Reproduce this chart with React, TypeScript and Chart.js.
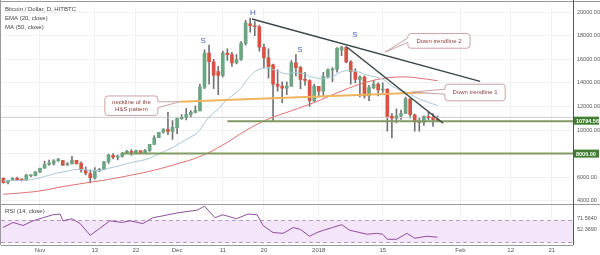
import React, { useEffect, useRef } from "react";
import { Chart, registerables } from "chart.js";

Chart.register(...registerables);

// ---- data (day 0 = Nov 1, 2017) ----
const candleDays = [
  -8, -7, -6, -5, -4, -3, -2, -1, 0, 1, 2, 3, 4, 5, 6, 7, 8, 9, 10, 11, 12, 13, 14, 15, 16, 17, 18, 19, 20, 21, 22, 23,
  24, 25, 26, 27, 28, 29, 30, 31, 32, 33, 34, 35, 36, 37, 38, 39, 40, 41, 42, 43, 44, 45, 46, 47, 48, 49, 50, 51, 52, 53,
  54, 55, 56, 57, 58, 59, 60, 61, 62, 63, 64, 65, 66, 67, 68, 69, 70, 71, 72, 73, 74, 75, 76, 77, 78, 79, 80, 81, 82, 83,
  84, 85, 86, 87,
];
const opens = [
  5900, 5530, 5740, 5900, 5780, 5750, 6120, 6130, 6440, 6770, 7080, 7170, 7400, 7400, 7020, 7140, 7440, 7170, 6610, 6300,
  5940, 6560, 6630, 7320, 7850, 7700, 7770, 8040, 8200, 8080, 8230, 8070, 8240, 8790, 9350, 9820, 10070, 9900, 10200, 10970,
  11080, 11310, 11500, 11650, 13640, 16530, 15790, 14950, 14630, 16530, 16400, 15700, 16000, 17355, 19010, 18850, 18760,
  17025, 16116, 15537, 13884, 13720, 13560, 13720, 15700, 15290, 14300, 14200, 12500, 13700, 13300, 14545, 15100, 15150,
  16780, 17025, 15785, 14960, 14300, 14500, 12900, 13600, 13900, 13400, 13470, 11160, 11000, 11200, 11400, 12645, 11300,
  10700, 10650, 11150, 11050, 10900,
];
const highs = [
  5950, 5750, 5970, 6000, 5870, 6250, 6210, 6470, 6770, 7360, 7460, 7490, 7610, 7440, 7250, 7770, 7440, 7310, 6870, 6620,
  6810, 6760, 7340, 7960, 8000, 7880, 8100, 8280, 8340, 8300, 8260, 8370, 8790, 9520, 9810, 10120, 11500, 10800, 11040,
  11320, 11850, 11650, 12030, 13900, 16800, 17200, 16000, 15400, 16700, 16900, 16600, 16400, 17500, 19300, 19500, 19200,
  18900, 17300, 16900, 15600, 15100, 14100, 14100, 15900, 16400, 15400, 14900, 14250, 13900, 13700, 14900, 15200, 15300,
  17000, 17100, 17100, 15900, 15200, 14600, 14600, 13800, 14200, 14000, 14000, 13500, 11400, 11800, 11700, 12800, 12650,
  11350, 11000, 11200, 11500, 11400, 11200,
];
const lows = [
  5500, 5420, 5740, 5730, 5690, 5720, 6030, 6100, 6380, 6760, 7000, 7030, 7330, 7000, 7020, 7110, 7100, 6430, 6200, 5520,
  5840, 6460, 6630, 7170, 7560, 7460, 7690, 7990, 7850, 8070, 8030, 8000, 8190, 8770, 9350, 9730, 9600, 9200, 9690, 10900,
  10860, 11080, 11450, 11600, 13500, 13900, 13500, 13000, 14500, 15900, 15400, 15600, 15900, 17200, 18300, 18000, 16700,
  15300, 14400, 10744, 13300, 12300, 13000, 13700, 14600, 13500, 13800, 12000, 12400, 12800, 12800, 14400, 14100, 14900,
  16300, 15700, 13900, 14000, 12800, 12700, 12500, 13500, 12900, 13200, 9900, 9340, 10600, 10900, 11400, 11000, 9900, 9900,
  10400, 10850, 10300, 10700,
];
const closes = [
  5530, 5740, 5900, 5780, 5750, 6150, 6130, 6460, 6760, 7070, 7200, 7380, 7400, 7020, 7140, 7450, 7140, 6610, 6350, 5950,
  6550, 6630, 7310, 7870, 7700, 7790, 8030, 8200, 8070, 8250, 8040, 8250, 8790, 9330, 9810, 10050, 9880, 10230, 10970,
  11070, 11320, 11500, 11650, 13640, 16530, 15790, 14630, 14630, 16530, 16400, 15700, 16000, 17355, 19090, 18850, 18760,
  17025, 16116, 15372, 13884, 13720, 13560, 13720, 15700, 15290, 14300, 14200, 12500, 13700, 13300, 14545, 15100, 15150,
  16940, 17025, 15785, 14960, 14300, 14500, 12900, 13600, 13900, 13400, 13470, 11160, 11000, 11200, 11400, 12645, 11300,
  10700, 10650, 11150, 11050, 10900, 10794.56,
];
const emaValues = [
  5683, 5689, 5710, 5716, 5720, 5761, 5796, 5860, 5946, 6054, 6164, 6279, 6387, 6447, 6513, 6603, 6654, 6651, 6623, 6559,
  6559, 6566, 6637, 6755, 6845, 6935, 7040, 7150, 7238, 7334, 7401, 7482, 7607, 7771, 7966, 8165, 8329, 8510, 8745, 8966,
  9190, 9410, 9620, 10003, 10624, 11115, 11450, 11753, 12208, 12607, 12901, 13196, 13592, 14116, 14566, 14966, 15162,
  15252, 15264, 15132, 14998, 14861, 14752, 14842, 14884, 14828, 14768, 14552, 14471, 14359, 14377, 14446, 14513, 14744,
  14961, 15039, 15031, 14961, 14917, 14725, 14618, 14549, 14440, 14347, 14043, 13753, 13510, 13309, 13246, 13060, 12835,
  12627, 12486, 12349, 12211, 12076,
];
const maDays = [-8, -4, 0, 5, 10, 15, 20, 25, 30, 35, 40, 45, 50, 55, 60, 65, 70, 75, 80, 84, 87];
const maValues = [
  4547, 4670, 4836, 5200, 5511, 5808, 6179, 6594, 7130, 7754, 8723, 9950, 10940, 11629, 12335, 13149, 13884, 14376, 14505,
  14350, 14184,
];
const rsiDays = [
  -8.1, -5.9, -3.7, -1.5, 0.7, 2.8, 4.4, 5, 7, 8.8, 11, 13, 15.3, 18, 19.7, 22.5, 24.7, 27, 30, 34.4, 36, 38.3, 40, 43,
  45.5, 47.5, 48.8, 51, 53.2, 55.4, 57, 59, 60.6, 62, 64, 66, 67.8, 70, 71.6, 73.7, 75, 76, 78, 80.3, 82, 84.7, 87,
];
const rsiValues = [
  56, 65, 59.6, 68, 73.5, 78.7, 80, 68, 71.7, 63, 42, 54, 68, 65, 68, 63, 73.5, 77, 82, 87, 94, 73.5, 78.7, 71.7, 80, 78.7,
  59.6, 47, 45.6, 56, 52.6, 40.4, 47, 51, 56, 61, 51, 47, 44, 45.6, 44, 35, 35, 45.6, 37, 40.4, 38.7,
];

const xTickDays = [0, 12, 21, 30, 40, 49, 61, 75, 92, 103, 112];
const xTickLabels = ["Nov", "13", "22", "Dec", "11", "20", "2018", "15", "Feb", "12", "21"];
const priceTicks = [4000, 6000, 8000, 10000, 12000, 14000, 16000, 18000, 20000];
const rsiTicks = [52.369, 71.564];
const rsiTickLabels = ["52.3690", "71.5640"];

const trend2Days = [46.4, 96.3];
const trend2Prices = [19420, 14130];
const trend1Days = [67.2, 88.2];
const trend1Prices = [17025, 10579];
const necklineDays = [30.6, 86.9];
const necklinePrices = [12400, 13220];
const supportDays = [41, 116.7];
const supportPrices = [10750, 10750];
const lowSupportDays = [18, 116.7];
const lowSupportPrices = [8000, 8000];
const priceLineDays = [-8.6, 116.7];
const priceLinePrices = [11080, 11080];

const lastPrice = 10794.56;
const lastPriceLabel = "10794.56";
const supportLabelValue = 8000;
const supportLabel = "8000.00";

const hsDays = [35.7, 46.6, 56.9, 68.9];
const hsPrices = [17600, 19920, 16780, 18100];
const hsTexts = ["S", "H", "S", "S"];

const calloutTexts = [["neckline of the", "H&S pattern"], ["Down trendline 2"], ["Down trendline 1"]];
const calloutBoxDays = [[14.2, 25.8], [80.5, 94.1], [88.6, 101.8]];
const calloutBoxPrices = [[12893, 11240], [18182, 16942], [13884, 12479]];
const calloutTipDays = [30.6, 75.5, 81.4];
const calloutTipPrices = [12400, 16612, 13223];

const UP = "#6ba583";
const DOWN = "#d75442";
const FONT = "'Liberation Sans', Arial, sans-serif";

function pts(xs: number[], ys: number[]) {
  return xs.map((x, i) => ({ x, y: ys[i] }));
}

const overlay = {
  id: "overlay",
  beforeDatasetsDraw(chart: any) {
    const { ctx, chartArea, scales } = chart;
    const y2 = scales.y2;
    const t = Math.round(y2.getPixelForValue(70)) + 0.5;
    const b = Math.round(y2.getPixelForValue(30)) + 0.5;
    ctx.save();
    ctx.fillStyle = "#f3e5fa";
    ctx.fillRect(chartArea.left, t, chartArea.right - chartArea.left, b - t);
    ctx.setLineDash([4, 3]);
    ctx.strokeStyle = "#b89bc6";
    ctx.lineWidth = 1;
    [t, b].forEach((yy) => {
      ctx.beginPath();
      ctx.moveTo(chartArea.left, yy);
      ctx.lineTo(chartArea.right, yy);
      ctx.stroke();
    });
    ctx.restore();
  },
  afterDraw(chart: any) {
    const { ctx, chartArea, scales } = chart;
    const x = scales.x;
    const y = scales.y;
    ctx.save();
    // frame lines
    ctx.strokeStyle = "#9a9a9a";
    ctx.lineWidth = 1;
    const sep = Math.round(y.bottom) + 0.5;
    ctx.beginPath();
    ctx.moveTo(0, sep);
    ctx.lineTo(600, sep);
    ctx.moveTo(chartArea.left, Math.round(chartArea.bottom) + 0.5);
    ctx.lineTo(chartArea.right, Math.round(chartArea.bottom) + 0.5);
    ctx.moveTo(0.5, 0);
    ctx.lineTo(0.5, chartArea.bottom);
    ctx.moveTo(0, 1.5);
    ctx.lineTo(600, 1.5);
    ctx.stroke();
    ctx.strokeStyle = "#555";
    ctx.beginPath();
    ctx.moveTo(Math.round(chartArea.right) + 0.5, 0);
    ctx.lineTo(Math.round(chartArea.right) + 0.5, chartArea.bottom);
    ctx.stroke();

    // price label boxes
    const box = (v: number, txt: string) => {
      const py = y.getPixelForValue(v);
      ctx.fillStyle = "#3f7f2f";
      ctx.fillRect(chartArea.right + 1, py - 4, 25, 8);
      ctx.fillStyle = "#ffffff";
      ctx.font = `bold 5.5px ${FONT}`;
      ctx.textBaseline = "middle";
      ctx.textAlign = "left";
      ctx.fillText(txt, chartArea.right + 3, py + 0.5);
    };
    box(lastPrice, lastPriceLabel);
    box(supportLabelValue, supportLabel);

    // legends
    ctx.textAlign = "left";
    ctx.textBaseline = "middle";
    ctx.fillStyle = "#444";
    ctx.font = `6px ${FONT}`;
    ctx.fillText("Bitcoin / Dollar, D, HITBTC", 5, 9);
    ctx.fillText("EMA (20, close)", 5, 18);
    ctx.fillText("MA (50, close)", 5, 27);
    ctx.fillText("RSI (14, close)", 5, 211);

    // H&S letters
    ctx.fillStyle = "#4b5ec4";
    ctx.font = `8px ${FONT}`;
    ctx.textAlign = "center";
    hsTexts.forEach((t, i) => {
      ctx.fillText(t, x.getPixelForValue(hsDays[i]), y.getPixelForValue(hsPrices[i]));
    });

    // callouts
    calloutTexts.forEach((lines, i) => {
      const x0 = x.getPixelForValue(calloutBoxDays[i][0]);
      const x1 = x.getPixelForValue(calloutBoxDays[i][1]);
      const y0 = y.getPixelForValue(calloutBoxPrices[i][0]);
      const y1 = y.getPixelForValue(calloutBoxPrices[i][1]);
      const tx = x.getPixelForValue(calloutTipDays[i]);
      const ty = y.getPixelForValue(calloutTipPrices[i]);
      const w = x1 - x0;
      const h = y1 - y0;
      const r = 3;
      const right = tx > x1;
      const bx = right ? x1 : x0;
      const b1 = y0 + h * 0.3;
      const b2 = y0 + h * 0.6;
      ctx.beginPath();
      ctx.moveTo(x0 + r, y0);
      ctx.lineTo(x1 - r, y0);
      ctx.quadraticCurveTo(x1, y0, x1, y0 + r);
      if (right) {
        ctx.lineTo(x1, b1);
        ctx.lineTo(tx, ty);
        ctx.lineTo(x1, b2);
      }
      ctx.lineTo(x1, y1 - r);
      ctx.quadraticCurveTo(x1, y1, x1 - r, y1);
      ctx.lineTo(x0 + r, y1);
      ctx.quadraticCurveTo(x0, y1, x0, y1 - r);
      if (!right) {
        ctx.lineTo(x0, b2);
        ctx.lineTo(tx, ty);
        ctx.lineTo(x0, b1);
      }
      ctx.lineTo(x0, y0 + r);
      ctx.quadraticCurveTo(x0, y0, x0 + r, y0);
      ctx.closePath();
      ctx.fillStyle = "#ffffff";
      ctx.fill();
      ctx.strokeStyle = "#c9a2a6";
      ctx.lineWidth = 1;
      ctx.stroke();
      ctx.fillStyle = "#8e3c3c";
      ctx.font = `6px ${FONT}`;
      ctx.textAlign = "center";
      ctx.textBaseline = "middle";
      const lh = 7;
      const cy = y0 + h / 2 - ((lines.length - 1) * lh) / 2;
      lines.forEach((ln, j) => ctx.fillText(ln, x0 + w / 2, cy + j * lh));
      void bx;
    });
    ctx.restore();
  },
};

export default function App() {
  const ref = useRef<HTMLCanvasElement | null>(null);
  useEffect(() => {
    if (!ref.current) return;
    const bodies = candleDays.map((d, i) => ({ x: d, y: [opens[i], closes[i]] }));
    const wicks = candleDays.map((d, i) => ({ x: d, y: [lows[i], highs[i]] }));
    const colors = candleDays.map((_, i) => (closes[i] >= opens[i] ? UP : DOWN));
    const line = (data: any, color: string, width: number, order: number, extra: any = {}) => ({
      type: "line",
      data,
      borderColor: color,
      borderWidth: width,
      pointRadius: 0,
      fill: false,
      order,
      yAxisID: "y",
      xAxisID: "x",
      ...extra,
    });
    const chart = new Chart(ref.current, {
      type: "bar",
      data: {
        datasets: [
          line(pts(trend2Days, trend2Prices), "#3b4648", 1.5, 1),
          line(pts(trend1Days, trend1Prices), "#3b4648", 1.5, 1),
          line(pts(necklineDays, necklinePrices), "#f0b45e", 2, 2),
          line(pts(supportDays, supportPrices), "#7f9a62", 2, 3),
          line(pts(lowSupportDays, lowSupportPrices), "#7f9a62", 2, 3),
          line(pts(priceLineDays, priceLinePrices), "#c9cccf", 1, 6),
          line(pts(candleDays, emaValues), "#a9c8d6", 1, 4),
          line(pts(maDays, maValues), "#dd6f6f", 1, 4, { tension: 0.4 }),
          line(pts(rsiDays, rsiValues), "#8f4f9c", 1, 4, { yAxisID: "y2" }),
          {
            type: "bar",
            data: bodies,
            backgroundColor: colors,
            barThickness: 3,
            grouped: false,
            minBarLength: 1,
            order: 5,
            yAxisID: "y",
          },
          {
            type: "bar",
            data: wicks,
            backgroundColor: "#737375",
            barThickness: 1,
            grouped: false,
            order: 7,
            yAxisID: "y",
          },
        ] as any,
      },
      options: {
        animation: false,
        responsive: false,
        devicePixelRatio: 1,
        layout: { padding: { left: 1, top: 1, right: 0, bottom: 0 } },
        plugins: { legend: { display: false }, tooltip: { enabled: false } },
        scales: {
          x: {
            type: "linear",
            min: -8.53,
            max: 116.63,
            offset: false,
            grid: { color: "#eff1f3", drawTicks: false, offset: false },
            border: { display: false },
            afterBuildTicks: (s: any) => {
              s.ticks = xTickDays.map((v) => ({ value: v }));
            },
            afterFit: (s: any) => {
              s.height = 10;
            },
            ticks: {
              autoSkip: false,
              maxRotation: 0,
              padding: 2,
              color: "#555",
              font: { size: 6, family: FONT },
              callback: (_v: any, i: number) => xTickLabels[i],
            },
          },
          y: {
            type: "linear",
            position: "right",
            stack: "pane",
            stackWeight: 202,
            min: 3719,
            max: 20413,
            grid: { color: "#eff1f3", drawTicks: false },
            border: { display: false },
            afterBuildTicks: (s: any) => {
              s.ticks = priceTicks.map((v) => ({ value: v }));
            },
            afterFit: (s: any) => {
              s.width = 27;
            },
            ticks: {
              padding: 4,
              color: "#555",
              font: { size: 5.5, family: FONT },
              callback: (v: any) => Number(v).toFixed(2),
            },
          },
          y2: {
            type: "linear",
            position: "right",
            stack: "pane",
            stackWeight: 42,
            min: 24.8,
            max: 97.8,
            grid: { display: false, drawTicks: false },
            border: { display: false },
            afterBuildTicks: (s: any) => {
              s.ticks = rsiTicks.map((v) => ({ value: v }));
            },
            afterFit: (s: any) => {
              s.width = 27;
            },
            ticks: {
              padding: 4,
              color: "#555",
              font: { size: 5.5, family: FONT },
              callback: (_v: any, i: number) => rsiTickLabels[i],
            },
          },
        },
      } as any,
      plugins: [overlay],
    });
    return () => chart.destroy();
  }, []);
  return (
    <div style={{ position: "fixed", left: 0, top: 0, width: 600, height: 255, background: "#fff" }}>
      <canvas ref={ref} width={600} height={255} style={{ display: "block" }} />
    </div>
  );
}
